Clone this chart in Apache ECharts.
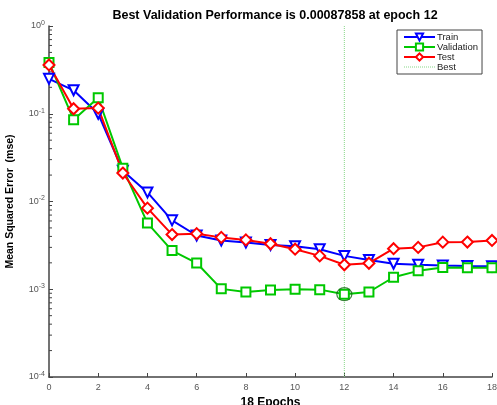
<!DOCTYPE html>
<html><head><meta charset="utf-8">
<script src="https://cdn.jsdelivr.net/npm/echarts@6/dist/echarts.min.js"></script>
<style>html,body{margin:0;padding:0;background:#fff}#c{width:497px;height:405px}</style>
</head><body><div id="c"></div>
<script>
const epochs = [0,1,2,3,4,5,6,7,8,9,10,11,12,13,14,15,16,17,18];
const train = [0.25,0.185,0.10,0.0224,0.0127,0.0061,0.0041,0.0036,0.0034,0.0032,0.0031,0.00286,0.0024,0.00216,0.00195,0.0019,0.00186,0.00184,0.00183];
const validation = [0.385,0.0857,0.152,0.024,0.00567,0.00276,0.00199,0.00101,0.00093,0.00098,0.00100,0.00099,0.00087858,0.00093,0.00137,0.00162,0.00177,0.00176,0.00176];
const test = [0.36,0.114,0.116,0.0211,0.0084,0.0042,0.0043,0.0039,0.00365,0.0033,0.00286,0.0024,0.0019,0.00198,0.0029,0.0030,0.00344,0.00345,0.0036];
const bestEpoch = 12;
const bestPerf = 0.00087858;

const chart = echarts.init(document.getElementById('c'));
const pair = arr => arr.map((v,i)=>[epochs[i], v]);
const minorVals = [];
for (let k=-4;k<0;k++) for (let m=2;m<=9;m++) minorVals.push(m*Math.pow(10,k));
let dots = '';
for (let i=0;i<=30;i+=2) dots += 'M'+i+',0h1v1h-1z';

const font = 'Liberation Sans, Arial, sans-serif';
chart.setOption({
  animation:false,
  backgroundColor:'#fff',
  title:{text:'Best Validation Performance is 0.00087858 at epoch 12', left:270, textAlign:'center', top:4,
    textStyle:{fontSize:12.5, fontWeight:'bold', color:'#000', fontFamily:font}},
  grid:{left:49, right:5, top:26, bottom:28, outerBoundsMode:'none', containLabel:false},
  legend:{orient:'vertical', left:397, top:30,
    data:['Train','Validation','Test',{name:'Best', icon:'path://'+dots}],
    itemWidth:31, itemHeight:9, itemGap:0, padding:[2,4,2,6], borderColor:'#444', borderWidth:1,
    backgroundColor:'#fff',
    textStyle:{fontSize:9.5, lineHeight:10, color:'#222', fontFamily:font, padding:[0,0,0,-3]}},
  xAxis:{type:'value', min:0, max:18, interval:2,
    name:'18 Epochs', nameLocation:'middle', nameGap:17,
    nameTextStyle:{fontSize:12, fontWeight:'bold', color:'#000', fontFamily:font},
    axisLine:{lineStyle:{color:'#444', width:1.5}},
    axisTick:{inside:true, length:4, lineStyle:{color:'#444'}},
    axisLabel:{fontSize:9, color:'#555', margin:6, fontFamily:font},
    splitLine:{show:false}},
  yAxis:{type:'log', logBase:10, min:1e-4, max:1,
    name:'Mean Squared Error  (mse)', nameLocation:'middle', nameGap:33,
    nameTextStyle:{fontSize:10.5, fontWeight:'bold', color:'#000', fontFamily:font},
    axisLine:{lineStyle:{color:'#444', width:1.5}},
    axisTick:{inside:true, length:4, lineStyle:{color:'#444'}},
    axisLabel:{margin:4, fontFamily:font,
      formatter:v=>{const e=Math.round(Math.log10(v)); return '{b|10}{s|'+e+'}';},
      rich:{b:{fontSize:9,color:'#555',fontFamily:font},s:{fontSize:7,color:'#555',verticalAlign:'top',padding:[0,0,6,0],fontFamily:font}}},
    splitLine:{show:false}},
  series:[
    {name:'Train', type:'line', data:pair(train), color:'#0000ff',
      lineStyle:{width:2}, symbol:'emptyTriangle', symbolRotate:180, symbolSize:10,
      itemStyle:{borderWidth:1.5}},
    {name:'Validation', type:'line', data:pair(validation), color:'#00c800',
      lineStyle:{width:2}, symbol:'emptyRect', symbolSize:9, itemStyle:{borderWidth:1.5}},
    {name:'Test', type:'line', data:pair(test), color:'#ff0000',
      lineStyle:{width:2}, symbol:'emptyDiamond', symbolSize:11, itemStyle:{borderWidth:1.5}},
    {name:'Best', type:'line', data:[[bestEpoch,1e-4],[bestEpoch,1]], color:'#88d888',
      symbol:'none', lineStyle:{width:1, type:'dotted', color:'#88d888'},
      markLine:{silent:true, symbol:'none', label:{show:false},
        lineStyle:{type:'dotted', color:'#c4d4c4', width:1},
        data:[{yAxis:bestPerf}]}},
    {name:'bestCircle', type:'scatter', data:[[bestEpoch,bestPerf]], symbol:'circle', symbolSize:[15,13],
      itemStyle:{color:'rgba(0,0,0,0)', borderColor:'#0f6a0f', borderWidth:1.2}, z:5},
    {name:'minorTicks', type:'custom', data:minorVals.map(v=>[0,v]), clip:false, silent:true,
      renderItem:(params, api)=>{const p=api.coord([0, api.value(1)]);
        return {type:'line', shape:{x1:p[0], y1:p[1], x2:p[0]+3, y2:p[1]}, style:{stroke:'#444', lineWidth:1}};}}
  ]
});
</script></body></html>
